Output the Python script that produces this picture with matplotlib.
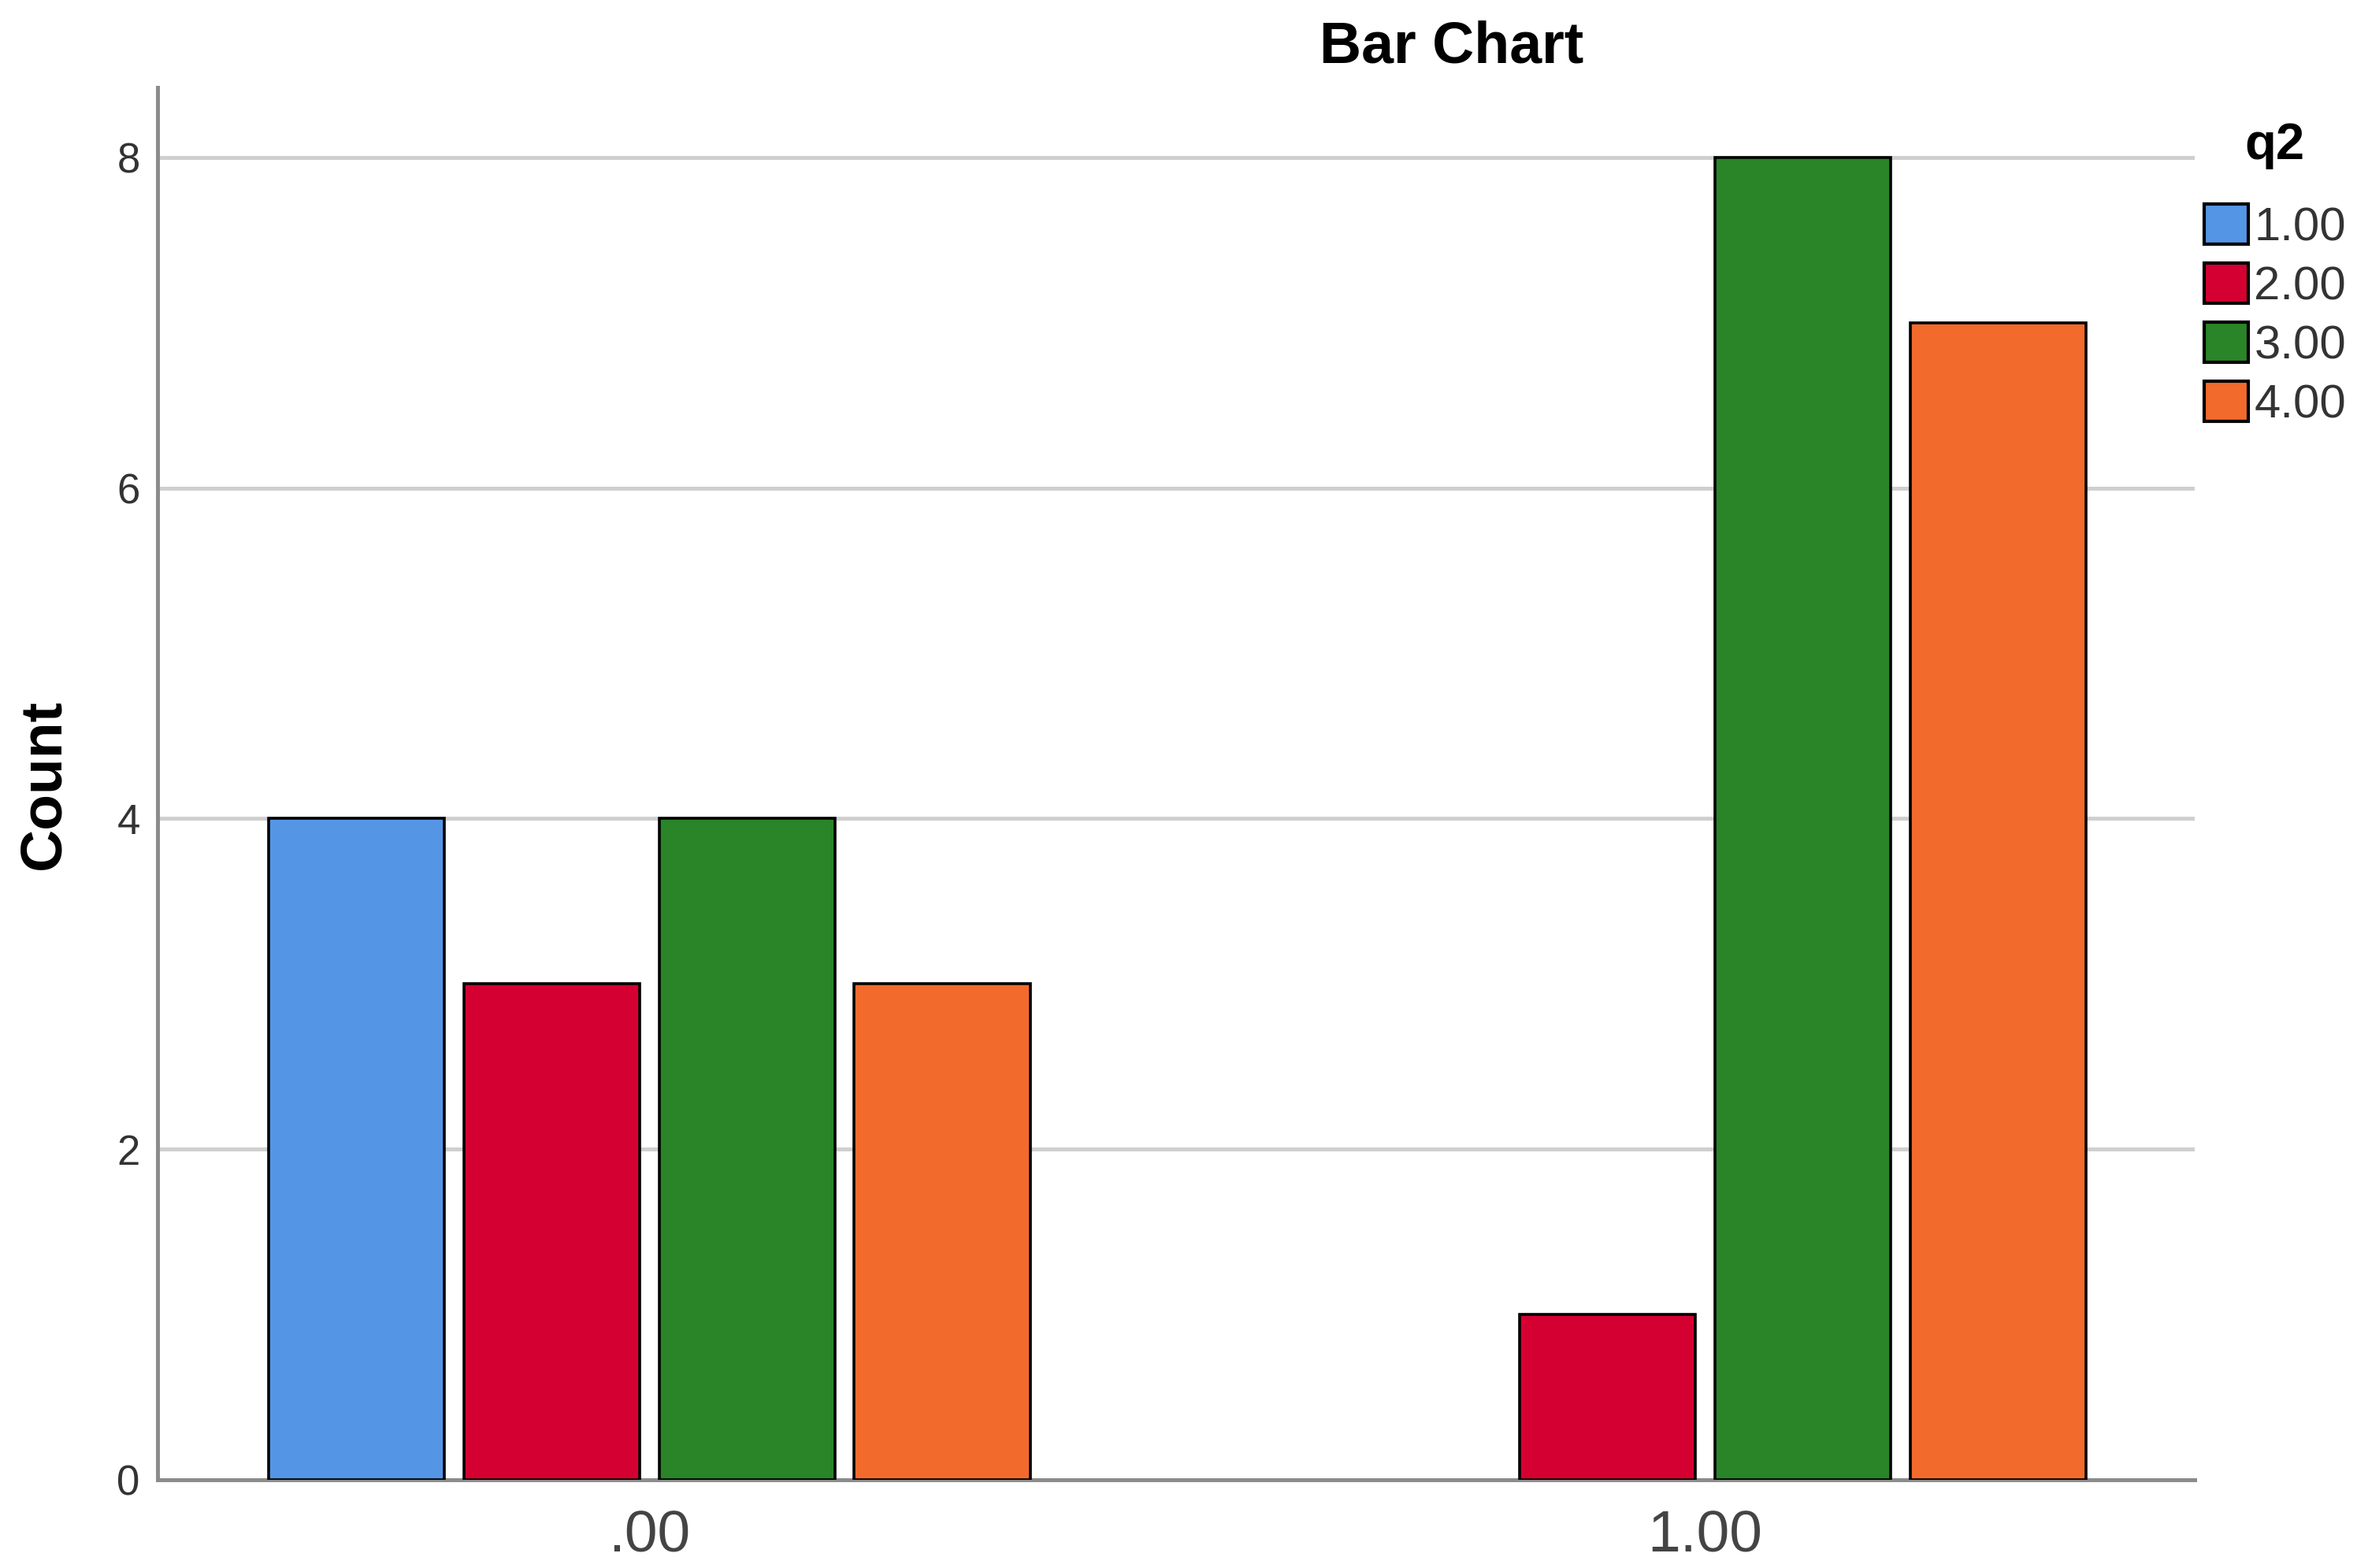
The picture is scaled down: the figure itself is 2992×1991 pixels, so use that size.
import numpy as np
import matplotlib
matplotlib.use('Agg')
import matplotlib.pyplot as plt

plt.rcParams['font.family'] = ['Liberation Sans', 'DejaVu Sans']

# 数据
groups = ['.00', '1.00']
q2_levels = ['1.00', '2.00', '3.00', '4.00']
count_1 = [4, 0]
count_2 = [3, 1]
count_3 = [4, 8]
count_4 = [3, 7]
colorlist = ['#5595e5', '#d50032', '#2a8428', '#f26a2c']

fig = plt.figure(figsize=(14.96, 9.955), dpi=200)
ax = fig.add_axes([0.0668, 0.0562, 0.8644, 0.8878])

x = np.arange(len(groups))
step = 0.185
width = 0.1667
series = [count_1, count_2, count_3, count_4]
handles = []
for i, vals in enumerate(series):
    lw = [1.3 if v > 0 else 0 for v in vals]  # 0值不画边框
    b = ax.bar(x + (i - 1.5) * step, vals, width, color=colorlist[i],
               edgecolor='black', linewidth=lw, zorder=3)
    handles.append(b)

ax.set_xlim(-0.466, 1.464)
ax.set_ylim(0, 8.42)
ax.set_yticks([0, 2, 4, 6, 8])
ax.set_xticks(x)
ax.set_xticklabels(groups)
ax.grid(axis='y', color='#cfcfcf', linewidth=1.8, zorder=0)
ax.set_axisbelow(True)
for s in ['top', 'right']:
    ax.spines[s].set_visible(False)
for s in ['left', 'bottom']:
    ax.spines[s].set_color('#8c8c8c')
    ax.spines[s].set_linewidth(1.8)
ax.tick_params(axis='y', length=0, pad=8, labelsize=19, labelcolor='#333333')
ax.tick_params(axis='x', length=0, pad=13.5, labelsize=27, labelcolor='#444444')

ax.set_ylabel('Count', fontsize=27, fontweight='bold', labelpad=21)
fig.text(0.616, 0.960, 'Bar Chart', fontsize=26.5, fontweight='bold',
         ha='center', va='baseline')

# 图例标题单独画
fig.text(0.965, 0.8985, 'q2', fontsize=23.5, fontweight='bold',
         ha='center', va='baseline')
leg = fig.legend([h[0] for h in handles], q2_levels,
                 loc='upper left', bbox_to_anchor=(0.935, 0.870),
                 frameon=False, fontsize=21.5, borderpad=0,
                 handlelength=0.95, handleheight=0.95, labelspacing=0.28,
                 handletextpad=0.12, borderaxespad=0)
for h in leg.legend_handles:
    h.set_linewidth(1.5)
for t in leg.get_texts():
    t.set_color('#333333')

plt.savefig('out.png', dpi=200)
